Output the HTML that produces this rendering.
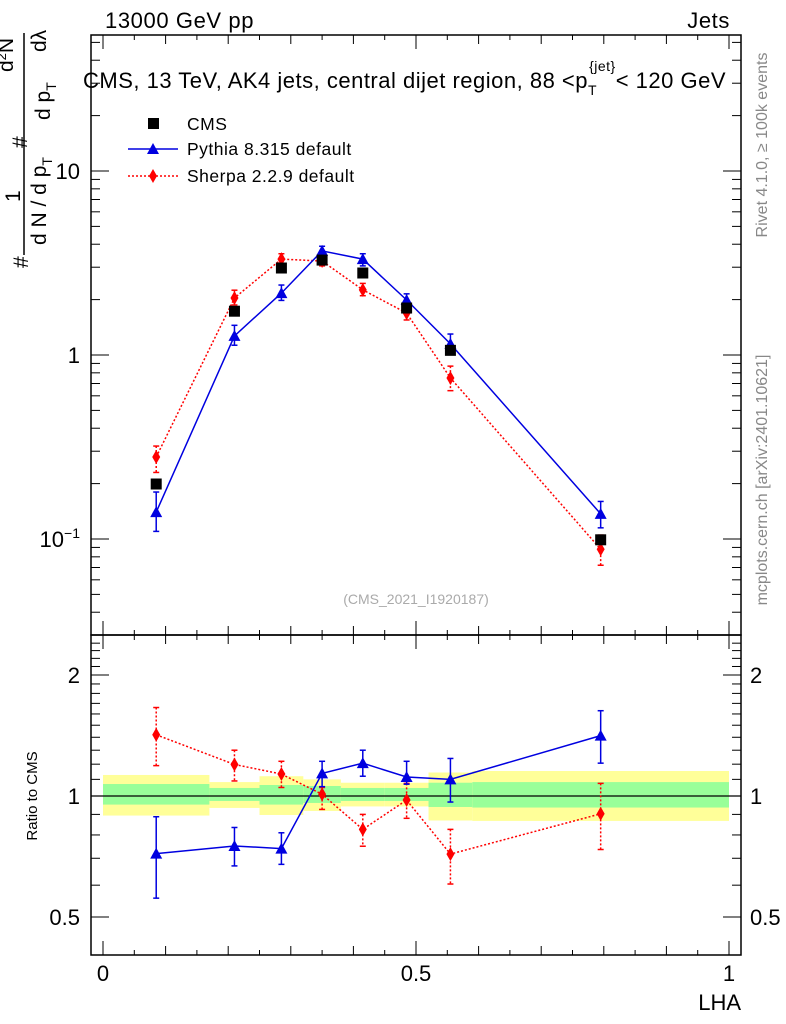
<!DOCTYPE html>
<html><head><meta charset="utf-8"><style>
html,body{margin:0;padding:0;background:#fff;}
svg{display:block;font-family:"Liberation Sans",sans-serif;}
</style></head><body>
<svg id="chart" width="786" height="1024" viewBox="0 0 786 1024" xmlns="http://www.w3.org/2000/svg">
<g id="bands"></g>
<g id="marks"></g>
<g id="axes"></g>
<text x="105" y="28" font-size="22" letter-spacing="0.6">13000 GeV pp</text>
<text x="730" y="28" font-size="22" letter-spacing="0.6" text-anchor="end">Jets</text>
<text x="83" y="88" font-size="22" letter-spacing="0.5">CMS, 13 TeV, AK4 jets, central dijet region, 88 &lt;p<tspan font-size="14" dy="7">T</tspan><tspan font-size="14" dx="-8" dy="-24">{jet}</tspan><tspan dy="17">&lt; 120 GeV</tspan></text>
<g font-size="17.5" letter-spacing="0.5">
<rect x="148" y="118" width="11" height="11" fill="#000"/>
<text x="187" y="130">CMS</text>
<line x1="128" y1="149" x2="178" y2="149" stroke="#0000e0" stroke-width="1.5"/>
<polygon points="153,143 147,154 159,154" fill="#0000e0"/>
<text x="187" y="155">Pythia 8.315 default</text>
<line x1="128" y1="176" x2="178" y2="176" stroke="#f00" stroke-width="1.5" stroke-dasharray="2,2"/>
<polygon points="153,169 157,176 153,183 149,176" fill="#f00"/>
<text x="187" y="182">Sherpa 2.2.9 default</text>
</g>
<text x="416" y="604" font-size="14" fill="#aaa" text-anchor="middle">(CMS_2021_I1920187)</text>
<text transform="translate(767,145) rotate(-90)" font-size="16" fill="#888" text-anchor="middle">Rivet 4.1.0, ≥ 100k events</text>
<text transform="translate(767,480) rotate(-90)" font-size="16" fill="#888" text-anchor="middle">mcplots.cern.ch [arXiv:2401.10621]</text>
<g transform="rotate(-90)" font-size="21">
<text x="-268" y="28">#</text>
<text x="-202" y="20">1</text>
<line x1="-255" y1="24" x2="-33" y2="24" stroke="#000" stroke-width="1.5"/>
<text x="-245" y="46">d N / d p<tspan font-size="14" dy="6">T</tspan></text>
<text x="-148" y="27">#</text>
<text x="-120" y="50">d p<tspan font-size="14" dy="6">T</tspan></text>
<text x="-72" y="13">d<tspan font-size="13" dy="-7">2</tspan><tspan dy="7">N</tspan></text>
<text x="-52" y="46">dλ</text>
</g>
<text transform="translate(37,796) rotate(-90)" font-size="15" text-anchor="middle">Ratio to CMS</text>
<text x="741" y="1010" font-size="22" text-anchor="end">LHA</text>
</svg>
<script>
const binEdges=[0,0.17,0.25,0.32,0.38,0.45,0.52,0.59,1.0];
const xCenters=[0.085,0.21,0.285,0.35,0.415,0.485,0.555,0.795];
const cmsVals=[0.199,1.73,2.97,3.28,2.79,1.80,1.06,0.099];
const pythiaVals=[0.140,1.27,2.17,3.68,3.32,1.99,1.15,0.137];
const pythiaHi=[0.180,1.45,2.4,3.9,3.55,2.15,1.30,0.16];
const pythiaLo=[0.110,1.13,1.98,3.45,3.05,1.85,1.03,0.115];
const sherpaVals=[0.279,2.04,3.32,3.24,2.26,1.69,0.75,0.088];
const sherpaHi=[0.32,2.25,3.55,3.45,2.45,1.85,0.87,0.105];
const sherpaLo=[0.23,1.87,3.1,3.05,2.1,1.55,0.64,0.072];
const pyRatio=[0.719,0.751,0.740,1.138,1.207,1.115,1.10,1.413];
const pyRatioHi=[0.888,0.835,0.81,1.22,1.30,1.22,1.24,1.63];
const pyRatioLo=[0.557,0.67,0.676,1.055,1.12,1.07,0.966,1.207];
const shRatio=[1.42,1.198,1.134,1.01,0.826,0.977,0.717,0.903];
const shRatioHi=[1.66,1.30,1.22,1.05,0.90,1.075,0.826,1.075];
const shRatioLo=[1.19,1.09,1.05,0.926,0.75,0.88,0.604,0.736];
const yellowHi=[1.128,1.083,1.12,1.10,1.079,1.079,1.144,1.154];
const yellowLo=[0.894,0.934,0.897,0.918,0.942,0.942,0.869,0.867];
const greenHi=[1.071,1.047,1.065,1.059,1.047,1.047,1.079,1.083];
const greenLo=[0.952,0.972,0.952,0.961,0.972,0.972,0.939,0.936];
const xTicks=[0,0.5,1];
const xTickLabels=["0","0.5","1"];
const ratioTicks=[0.5,1,2];
const ratioTickLabels=["0.5","1","2"];

const NS="http://www.w3.org/2000/svg";
const L=91,R=741,T=35,M=635,B=955;
const X=v=>103+v*626;
const Y=v=>355-184*Math.log10(v);
const YR=v=>796-121*Math.log2(v);
function mk(parent,tag,attrs){const e=document.createElementNS(NS,tag);for(const k in attrs)e.setAttribute(k,attrs[k]);parent.appendChild(e);return e;}
const bands=document.getElementById('bands'),marks=document.getElementById('marks'),axes=document.getElementById('axes');

for(let i=0;i<xCenters.length;i++){
 const x0=X(binEdges[i]),x1=X(binEdges[i+1]);
 const y=mk(bands,'rect',{x:x0,y:YR(yellowHi[i]),width:x1-x0,height:YR(yellowLo[i])-YR(yellowHi[i]),fill:'#ffff99'});
 
 
 const g=mk(bands,'rect',{x:x0,y:YR(greenHi[i]),width:x1-x0,height:YR(greenLo[i])-YR(greenHi[i]),fill:'#99ff99'});
 
 
}
const ref=mk(bands,'line',{x1:L,x2:R,y1:YR(1),y2:YR(1),stroke:'#000','stroke-width':1.2});



function series(vals,hi,lo,yf,color,dash,shape,name){
 const pts=xCenters.map((x,i)=>X(x)+','+yf(vals[i])).join(' ');
 const pl=mk(marks,'polyline',{points:pts,fill:'none',stroke:color,'stroke-width':1.5,'stroke-dasharray':dash});
 
 
 xCenters.forEach((x,i)=>{
  const cx=X(x),cy=yf(vals[i]);
  const eb=mk(marks,'line',{x1:cx,x2:cx,y1:yf(hi[i]),y2:yf(lo[i]),stroke:color,'stroke-width':1.5,'stroke-dasharray':dash});
  
  
  mk(marks,'line',{x1:cx-3,x2:cx+3,y1:yf(hi[i]),y2:yf(hi[i]),stroke:color,'stroke-width':1.5});
  mk(marks,'line',{x1:cx-3,x2:cx+3,y1:yf(lo[i]),y2:yf(lo[i]),stroke:color,'stroke-width':1.5});
  let p;
  if(shape==='tri') p=mk(marks,'polygon',{points:`${cx},${cy-6} ${cx-6},${cy+5} ${cx+6},${cy+5}`,fill:color});
  else p=mk(marks,'polygon',{points:`${cx},${cy-7} ${cx+4},${cy} ${cx},${cy+7} ${cx-4},${cy}`,fill:color});
  
  
 });
}
series(sherpaVals,sherpaHi,sherpaLo,Y,'#f00','2,2','dia','sherpa');
series(pythiaVals,pythiaHi,pythiaLo,Y,'#0000e0','none','tri','pythia');
xCenters.forEach((x,i)=>{
 const r=mk(marks,'rect',{x:X(x)-5.5,y:Y(cmsVals[i])-5.5,width:11,height:11,fill:'#000'});
 
 
});
series(shRatio,shRatioHi,shRatioLo,YR,'#f00','2,2','dia','sherpa-ratio');
series(pyRatio,pyRatioHi,pyRatioLo,YR,'#0000e0','none','tri','pythia-ratio');

[[T,M],[M,B]].forEach(([a,b])=>{
 const f=mk(axes,'rect',{x:L,y:a,width:R-L,height:b-a,fill:'none',stroke:'#000','stroke-width':1.5});
 
 
});
for(let k=0;k<=20;k++){
 const v=k*0.05,x=X(v);const len=(k%10===0)?14:(k%2===0?9:5);
 [[T,1],[M,-1],[M,1],[B,-1]].forEach(([y0,d])=>mk(axes,'line',{x1:x,x2:x,y1:y0,y2:y0+d*len,stroke:'#000','stroke-width':1}));
}
xTicks.forEach((v,i)=>{const t=mk(axes,'text',{x:X(v),y:981,'font-size':22,'text-anchor':'middle'});t.textContent=xTickLabels[i];
 
 });
for(let e=-2;e<=1;e++){for(let m=1;m<=9;m++){const v=m*Math.pow(10,e),y=Y(v);if(y<T||y>M)continue;const len=m===1?18:9;
 mk(axes,'line',{x1:L,x2:L+len,y1:y,y2:y,stroke:'#000'});mk(axes,'line',{x1:R,x2:R-len,y1:y,y2:y,stroke:'#000'});}}
const l10=mk(axes,'text',{x:80,y:Y(10)+8,'font-size':22,'text-anchor':'end'});l10.textContent='10';


const l1=mk(axes,'text',{x:80,y:Y(1)+8,'font-size':22,'text-anchor':'end'});l1.textContent='1';


const lm=mk(axes,'text',{x:80,y:Y(0.1)+8,'font-size':22,'text-anchor':'end'});


lm.appendChild(document.createTextNode('10'));
const sup=mk(lm,'tspan',{'font-size':14,dy:-9});sup.textContent='−1';
for(let v=0.4;v<=2.5;v+=0.1){const y=YR(v);if(y<M||y>B)continue;const big=[0.5,1,2].some(t=>Math.abs(t-v)<1e-6);const len=big?18:9;
 mk(axes,'line',{x1:L,x2:L+len,y1:y,y2:y,stroke:'#000'});mk(axes,'line',{x1:R,x2:R-len,y1:y,y2:y,stroke:'#000'});}
ratioTicks.forEach((v,i)=>{
 const a=mk(axes,'text',{x:80,y:YR(v)+8,'font-size':22,'text-anchor':'end'});a.textContent=ratioTickLabels[i];
 
 
 const b=mk(axes,'text',{x:750,y:YR(v)+8,'font-size':22});b.textContent=ratioTickLabels[i];
 
 
});
</script>
</body></html>
